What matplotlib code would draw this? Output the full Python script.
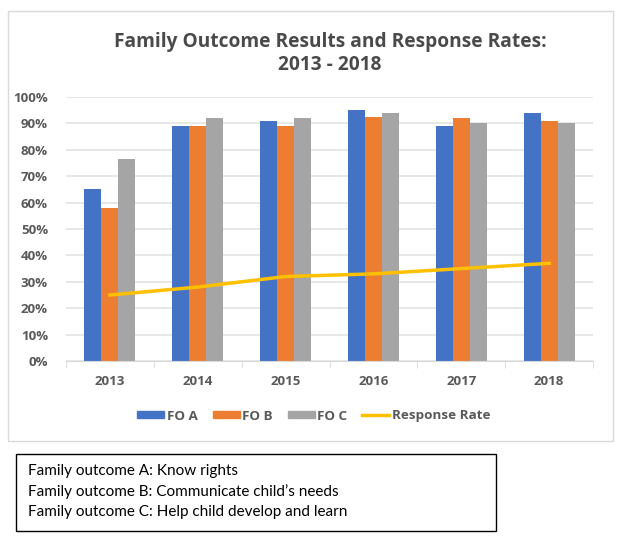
import matplotlib
matplotlib.use("Agg")
import matplotlib.pyplot as plt
import numpy as np
from matplotlib.patches import Rectangle
from matplotlib.lines import Line2D

plt.rcParams['font.family'] = ['Lato', 'DejaVu Sans']
bold_font = ['Open Sans', 'DejaVu Sans']

# Data
years = ['2013', '2014', '2015', '2016', '2017', '2018']
fo_a = [0.65, 0.89, 0.91, 0.95, 0.89, 0.94]
fo_b = [0.58, 0.89, 0.89, 0.925, 0.92, 0.91]
fo_c = [0.765, 0.92, 0.92, 0.94, 0.90, 0.90]
response_rate = [0.25, 0.28, 0.32, 0.33, 0.35, 0.37]
y_ticks = [0, 0.1, 0.2, 0.3, 0.4, 0.5, 0.6, 0.7, 0.8, 0.9, 1.0]
notes = ['Family outcome A: Know rights',
         'Family outcome B: Communicate child\u2019s needs',
         'Family outcome C: Help child develop and learn']

blue = '#4472C4'
orange = '#ED7D31'
gray = '#A5A5A5'
gold = '#FFC000'
text_col = '#595959'

W, H = 622, 541
fig = plt.figure(figsize=(W / 100, H / 100), dpi=100)

# chart frame
fig.patches.append(Rectangle((8 / W, 1 - 441 / H), 605 / W, 430 / H,
                             transform=fig.transFigure, fill=False,
                             edgecolor='#D9D9D9', lw=1))

ax = fig.add_axes([66 / W, 1 - 361 / H, 527 / W, 264 / H])
x = np.arange(len(years))
bw = 0.193
ax.bar(x - bw, fo_a, bw, color=blue, label='FO A', zorder=2)
ax.bar(x, fo_b, bw, color=orange, label='FO B', zorder=2)
ax.bar(x + bw, fo_c, bw, color=gray, label='FO C', zorder=2)
ax.plot(x, response_rate, color=gold, lw=2.5, label='Response Rate', zorder=3)

ax.set_xlim(-0.5, len(years) - 0.5)
ax.set_ylim(0, 1.0)
ax.set_yticks(y_ticks)
ax.set_yticklabels([f'{int(round(t * 100))}%' for t in y_ticks])
ax.set_xticks(x)
ax.set_xticklabels(years)
ax.set_xticks(np.arange(-0.5, len(years)), minor=True)
ax.tick_params(axis='x', which='major', length=0, pad=10)
ax.tick_params(axis='x', which='minor', length=5, color='#D9D9D9')
ax.tick_params(axis='y', length=0, pad=13)
for lab in ax.get_xticklabels() + ax.get_yticklabels():
    lab.set_family(bold_font)
    lab.set_fontweight('bold')
    lab.set_fontsize(9.5)
    lab.set_color(text_col)
ax.grid(axis='y', color='#E3E3E3', lw=1.2, zorder=0)
for s in ['top', 'right', 'left']:
    ax.spines[s].set_visible(False)
ax.spines['bottom'].set_color('#D9D9D9')
ax.spines['bottom'].set_zorder(4)

fig.text(330 / W, 1 - 42 / H, 'Family Outcome Results and Response Rates:',
         ha='center', va='center', fontsize=13.8, fontweight='bold',
         color='#4a4a4a', family=bold_font)
fig.text(330 / W, 1 - 65 / H, '2013 - 2018',
         ha='center', va='center', fontsize=13.8, fontweight='bold',
         color='#4a4a4a', family=bold_font)

handles = [Rectangle((0, 0), 1, 1, color=blue),
           Rectangle((0, 0), 1, 1, color=orange),
           Rectangle((0, 0), 1, 1, color=gray),
           Line2D([0], [0], color=gold, lw=2.5)]
leg = fig.legend(handles, ['FO A', 'FO B', 'FO C', 'Response Rate'],
                 loc='center', bbox_to_anchor=(314 / W, 1 - 416 / H), ncol=4,
                 frameon=False, handlelength=2.0, handleheight=0.45,
                 handletextpad=0.2, columnspacing=1.1,
                 prop={'family': bold_font, 'weight': 'bold', 'size': 9.7})
for t in leg.get_texts():
    t.set_color(text_col)

# notes box
fig.patches.append(Rectangle((16 / W, 1 - 531 / H), 480 / W, 77 / H,
                             transform=fig.transFigure, fill=False,
                             edgecolor='black', lw=1))
for i, line in enumerate(notes):
    fig.text(28 / W, 1 - (471 + 20.5 * i) / H, line, ha='left', va='center',
             fontsize=11, color='black')

fig.savefig('out.png', dpi=100)
